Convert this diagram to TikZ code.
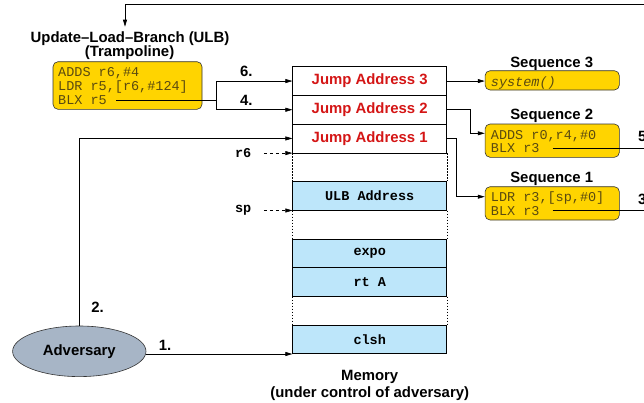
\documentclass[tikz,border=0pt]{standalone}
\usepackage{fontspec}
\setmainfont{Liberation Sans}
\setmonofont{Liberation Mono}
\usetikzlibrary{arrows.meta,shapes.geometric,positioning}
\definecolor{seqgold}{HTML}{FFD400}
\definecolor{slotblue}{HTML}{BDE6FA}
\definecolor{jumpred}{HTML}{D41515}
\definecolor{advgray}{HTML}{A7B5C6}
\definecolor{codebrown}{HTML}{5A4A10}

\begin{document}
\begin{tikzpicture}[x=1pt,y=-1pt,
  every node/.style={inner sep=0pt,font=\fontsize{14.9}{16}\selectfont\bfseries},
  arr/.style={-{Triangle[length=7pt,width=4pt]},line width=0.6pt},
  slot/.style={draw,line width=0.6pt,minimum width=154pt,minimum height=28.7pt},
  jump/.style={slot,text=jumpred},
  data/.style={slot,fill=slotblue,font=\fontsize{13.5}{14}\selectfont\ttfamily\bfseries},
  seqbox/.style={draw=black!80,fill=seqgold,rounded corners=5pt,minimum width=134.3pt,line width=0.6pt},
  code/.style={anchor=base west,text=codebrown,font=\fontsize{13.5}{14}\selectfont\ttfamily},
  reg/.style={anchor=east,font=\fontsize{13.5}{14}\selectfont\ttfamily\bfseries},
  gap/.style={dash pattern=on 1.5pt off 1.5pt,line width=0.5pt},
  ptr/.style={arr,dash pattern=on 3pt off 3pt}]
\useasboundingbox (0,0) rectangle (644,402);
% memory column
\node[jump] (ja3) at (369.7,81.05) {Jump Address 3};
\node[jump] (ja2) at (369.7,109.75) {Jump Address 2};
\node[jump] (ja1) at (369.7,138.45) {Jump Address 1};
\node[data] (ulbaddr) at (369.7,195.85) {ULB Address};
\node[data] (expo) at (369.7,253.25) {expo};
\node[data] (rta) at (369.7,281.95) {rt A};
\node[data] (clsh) at (369.7,339.35) {clsh};
\draw[gap] (ja1.south west) -- (ulbaddr.north west);
\draw[gap] (ja1.south east) -- (ulbaddr.north east);
\draw[gap] (ulbaddr.south west) -- (expo.north west);
\draw[gap] (ulbaddr.south east) -- (expo.north east);
\draw[gap] (rta.south west) -- (clsh.north west);
\draw[gap] (rta.south east) -- (clsh.north east);
\node[anchor=base] (memtitle) at (369.7,380) {Memory};
\node[anchor=base] (memnote) at (369.7,397) {(under control of adversary)};
% stack pointers
\node[reg] (rsix) at ([xshift=-41pt]ja1.south west) {r6};
\node[reg] (spreg) at ([xshift=-41pt]ulbaddr.south west) {sp};
\draw[ptr] ([xshift=12.5pt]rsix.east) -- (ja1.south west);
\draw[ptr] ([xshift=12.5pt]spreg.east) -- (ulbaddr.south west);
% trampoline
\node[anchor=base] (ulbtitle) at (130,42.7) {Update–Load–Branch (ULB)};
\node[anchor=base] (ulbsub) at (129.5,56.5) {(Trampoline)};
\node[seqbox,minimum width=149pt,minimum height=47.6pt] (ulb) at (127.5,85.5) {};
\node[code] (ulbadds) at (58,76) {ADDS r6,\#4};
\node[code] (ulbldr) at (58,90.3) {LDR r5,[r6,\#124]};
\node[code] (ulbblx) at (58,104.3) {BLX r5};
\coordinate (ulbjoin) at (216.7,99.7);
\draw[line width=0.6pt] ([xshift=9pt]ulbblx.east) -| (ulbjoin);
\draw[arr] (ulbjoin) |- (ja3.west);
\draw[arr] (ulbjoin) |- (ja2.west);
\node (lblsix) at (246.3,71) {6.};
\node (lblfour) at (246.3,100) {4.};
% gadget sequences
\node[anchor=base] (seqthreetitle) at (551.7,67.3) {Sequence 3};
\node[seqbox,minimum height=19.3pt] (seqthree) at (552.2,80.35) {};
\node[code,font=\fontsize{13.5}{14}\selectfont\ttfamily\itshape] (sysc) at (490.7,86) {system()};
\node[anchor=base] (seqtwotitle) at (551.7,119.3) {Sequence 2};
\node[seqbox,minimum height=33.3pt] (seqtwo) at (552.2,140.65) {};
\node[code] (seqtwoadds) at (490.7,139.5) {ADDS r0,r4,\#0};
\node[code] (seqtwoblx) at (490.7,152.7) {BLX r3};
\node[anchor=base] (seqonetitle) at (551.7,182) {Sequence 1};
\node[seqbox,minimum height=33.3pt] (seqone) at (552.2,203.35) {};
\node[code] (seqoneldr) at (490.7,201.5) {LDR r3,[sp,\#0]};
\node[code] (seqoneblx) at (490.7,215) {BLX r3};
\draw[arr] (ja3.east) -- (ja3.east -| seqthree.west);
\coordinate (jtwo) at (470.7,133.3);
\draw[arr] (ja2.east) -| (jtwo) -- (jtwo -| seqtwo.west);
\coordinate (jone) at (456,196.7);
\draw[arr] (ja1.east) -| (jone) -- (jone -| seqone.west);
% returns off the right edge
\coordinate (rightedge) at (650,0);
\coordinate (topright) at (650,4);
\coordinate (ulbin) at (125,26.7);
\draw[line width=0.6pt] ([xshift=13pt]seqtwoblx.east) -- (seqtwoblx.east -| rightedge);
\draw[line width=0.6pt] ([xshift=13pt]seqoneblx.east) -- (seqoneblx.east -| rightedge);
\draw[arr] (topright) -| (ulbin);
\node[anchor=west] (lblfive) at (638,136.7) {5.};
\node[anchor=west] (lblthree) at (638,199) {3.};
% adversary
\node[ellipse,draw=black!80,fill=advgray,minimum width=133.4pt,minimum height=50.6pt,line width=0.6pt] (adv) at (79.3,351.3) {Adversary};
\draw[arr] (adv.east |- clsh.south west) -- (clsh.south west);
\draw[arr] (adv.north) |- (ja1.west);
\node (lblone) at (165,345) {1.};
\node (lbltwo) at (97.5,307.3) {2.};
\end{tikzpicture}
\end{document}
